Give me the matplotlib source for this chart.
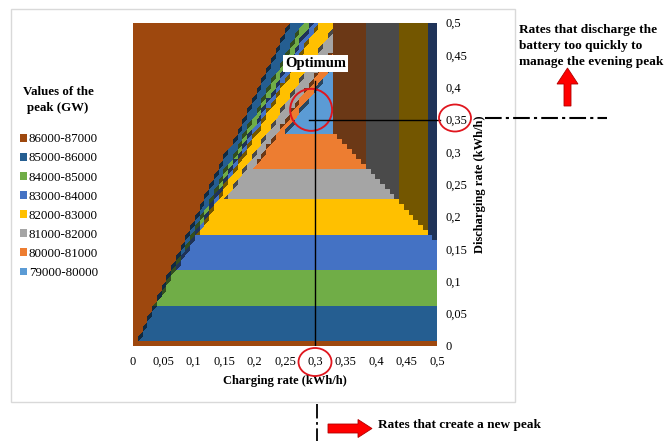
import numpy as np
import matplotlib
matplotlib.use("Agg")
import matplotlib.pyplot as plt
from matplotlib.colors import ListedColormap, to_rgb
from matplotlib.patches import Patch, Ellipse, FancyArrow, Rectangle
from matplotlib.tri import Triangulation

plt.rcParams["font.family"] = ["Liberation Serif", "DejaVu Serif"]
plt.rcParams["font.size"] = 9

# peak bands (GW), highest first, as in the legend
band_labels = ["86000-87000", "85000-86000", "84000-85000", "83000-84000",
               "82000-83000", "81000-82000", "80000-81000", "79000-80000"]
band_colors = ["#9E480E", "#255E91", "#70AD47", "#4472C4",
               "#FFC000", "#A5A5A5", "#ED7D31", "#5B9BD5"]
band_level = [86, 85, 84, 83, 82, 81, 80, 79]  # lower bound, thousands of GW

# discharging rate at which each horizontal band begins (levels 86 -> 79)
discharge_start = [0.0, 0.010, 0.062, 0.116, 0.170, 0.223, 0.276, 0.330]
# discharge/charge slope above which the upper-left fan reaches 86, 85, ..., 80
fan_slope = [1.95, 1.80, 1.72, 1.65, 1.50, 1.40, 1.33]
# charging rate at which each "new peak" column begins
charge_start = [0.330, 0.385, 0.436, 0.488]
charge_level = [80, 81, 82, 83]
new_peak_sum = 0.66  # charge + discharge rate from which a new peak appears

rates = np.linspace(0, 0.5, 65)  # surface grid, kWh/h

xticks = [0, 0.05, 0.1, 0.15, 0.2, 0.25, 0.3, 0.35, 0.4, 0.45, 0.5]
yticks = [0, 0.05, 0.1, 0.15, 0.2, 0.25, 0.3, 0.35, 0.4, 0.45, 0.5]
optimum = (0.3, 0.35)


def peak_level(x, y, xc, yc):
    # bands and columns follow the cell (xc, yc); slanted limits follow the facet (x, y)
    lev = np.array(band_level)[np.searchsorted(discharge_start, yc, side="right") - 1]
    r = np.where(x > 0, y / np.maximum(x, 1e-12), np.inf)
    fan = 79 + (r[..., None] > np.array(fan_slope)).sum(-1)
    lev = np.maximum(lev, fan)
    new = (xc >= charge_start[0]) & (x + y >= new_peak_sum)
    ci = np.clip(np.searchsorted(charge_start, xc, side="right") - 1, 0, None)
    lev = np.where(new, np.array(charge_level)[ci], lev)
    return lev, new


def shade(c, f=0.45):
    return tuple(v * f for v in to_rgb(c))


n = len(rates)
X, Y = np.meshgrid(rates, rates)
tris, cells = [], []
for j in range(n - 1):
    for i in range(n - 1):
        k = j * n + i
        tris.append([k, k + 1, k + n + 1])      # lower facet, first pair on one row
        tris.append([k + n + 1, k + n, k])      # upper facet
        cells += [k, k]
tris = np.array(tris)
cells = np.array(cells)
tri = Triangulation(X.ravel(), Y.ravel(), tris)

h = rates[1] - rates[0]
xs, ys = X.ravel(), Y.ravel()
node_lev, _ = peak_level(xs, ys, xs, ys)
cx, cy = xs[tris].mean(1), ys[tris].mean(1)
tri_lev, tri_new = peak_level(cx, cy, xs[cells] + h / 2, ys[cells] + h / 2)
# steep facets across a slanted boundary come out dark, as in the surface view
tv = node_lev[tris]
tooth = (tv[:, 0] != tv[:, 1]) & (tv.max(1) > tri_lev) & ~tri_new
idx = (86 - tri_lev) + 8 * (tri_new | tooth)

cmap = ListedColormap(band_colors + [shade(c) for c in band_colors])

fig = plt.figure(figsize=(6.64, 4.41), dpi=100)
ax = fig.add_axes([133 / 664, 95 / 441, 304 / 664, 323.5 / 441])
ax.tripcolor(tri, facecolors=idx, cmap=cmap, vmin=-0.5, vmax=15.5,
             edgecolors="none", antialiased=False)
ax.set_xlim(0, 0.5)
ax.set_ylim(0, 0.5)
for s in ax.spines.values():
    s.set_visible(False)
ax.set_xticks(xticks)
ax.set_xticklabels([f"{v:g}".replace(".", ",") for v in xticks])
ax.set_yticks(yticks)
ax.set_yticklabels([f"{v:g}".replace(".", ",") for v in yticks])
ax.yaxis.tick_right()
ax.yaxis.set_label_position("right")
ax.tick_params(length=0, labelsize=9)
ax.tick_params(axis="x", pad=7)
ax.tick_params(axis="y", pad=6)
ax.set_xlabel("Charging rate (kWh/h)", fontweight="bold", fontsize=9, labelpad=5)
ax.set_ylabel("Discharging rate (kWh/h)", fontweight="bold", fontsize=9, labelpad=5)

# optimum marks
ax.plot([optimum[0], optimum[0]], [0, 0.41], color="black", lw=1)
ax.plot([0.29, 0.505], [optimum[1], optimum[1]], color="black", lw=1, clip_on=False)
ax.add_patch(Ellipse((0.293, 0.365), 0.069, 0.065, fill=False, ec="#E0161E", lw=1.4))
ax.text(0.3, 0.436, "Optimum", fontsize=10.5, fontweight="bold", ha="center", va="center",
        bbox=dict(facecolor="white", edgecolor="none", pad=1.5))

# figure-level overlay in pixel units
ov = fig.add_axes([0, 0, 1, 1])
ov.set_xlim(0, 664)
ov.set_ylim(441, 0)
ov.axis("off")
ov.add_patch(Rectangle((11, 9), 504, 393, fill=False, ec="#D9D9D9", lw=1))
ov.add_patch(Ellipse((455, 118), 32, 27, fill=False, ec="#E0161E", lw=1.3))
ov.add_patch(Ellipse((315, 362), 33, 28, fill=False, ec="#E0161E", lw=1.3))
ov.plot([485, 607], [118, 118], color="black", lw=1.5, ls=(0, (8, 2, 1.5, 2)))
ov.plot([317, 317], [404, 441], color="black", lw=1.3, ls=(0, (8, 2, 1.5, 2)))
ov.add_patch(FancyArrow(567.5, 106, 0, -22, width=7, head_width=21, head_length=16,
                        length_includes_head=False, fc="#FF0000", ec="#B00000", lw=0.6))
ov.add_patch(FancyArrow(328, 428.5, 30, 0, width=9, head_width=18, head_length=14,
                        length_includes_head=False, fc="#FF0000", ec="#B00000", lw=0.6))
ov.text(519, 24, "Rates that discharge the\nbattery too quickly to\nmanage the evening peak",
        fontsize=9.6, fontweight="bold", ha="left", va="top", linespacing=1.42)
ov.text(378, 425, "Rates that create a new peak", fontsize=9.5, fontweight="bold",
        ha="left", va="center")

ov.text(58, 100, "Values of the\npeak (GW)", fontsize=9.3, fontweight="bold",
        ha="center", va="center", linespacing=1.45)
handles = [Patch(facecolor=c, edgecolor="none") for c in band_colors]
ov.legend(handles, band_labels, loc="upper left", bbox_to_anchor=(10, 123),
          bbox_transform=ov.transData, frameon=False, fontsize=9.3,
          handlelength=0.55, handleheight=0.55, handletextpad=0.12, labelspacing=0.55,
          borderpad=0.3)

fig.savefig("out.png", dpi=100)
